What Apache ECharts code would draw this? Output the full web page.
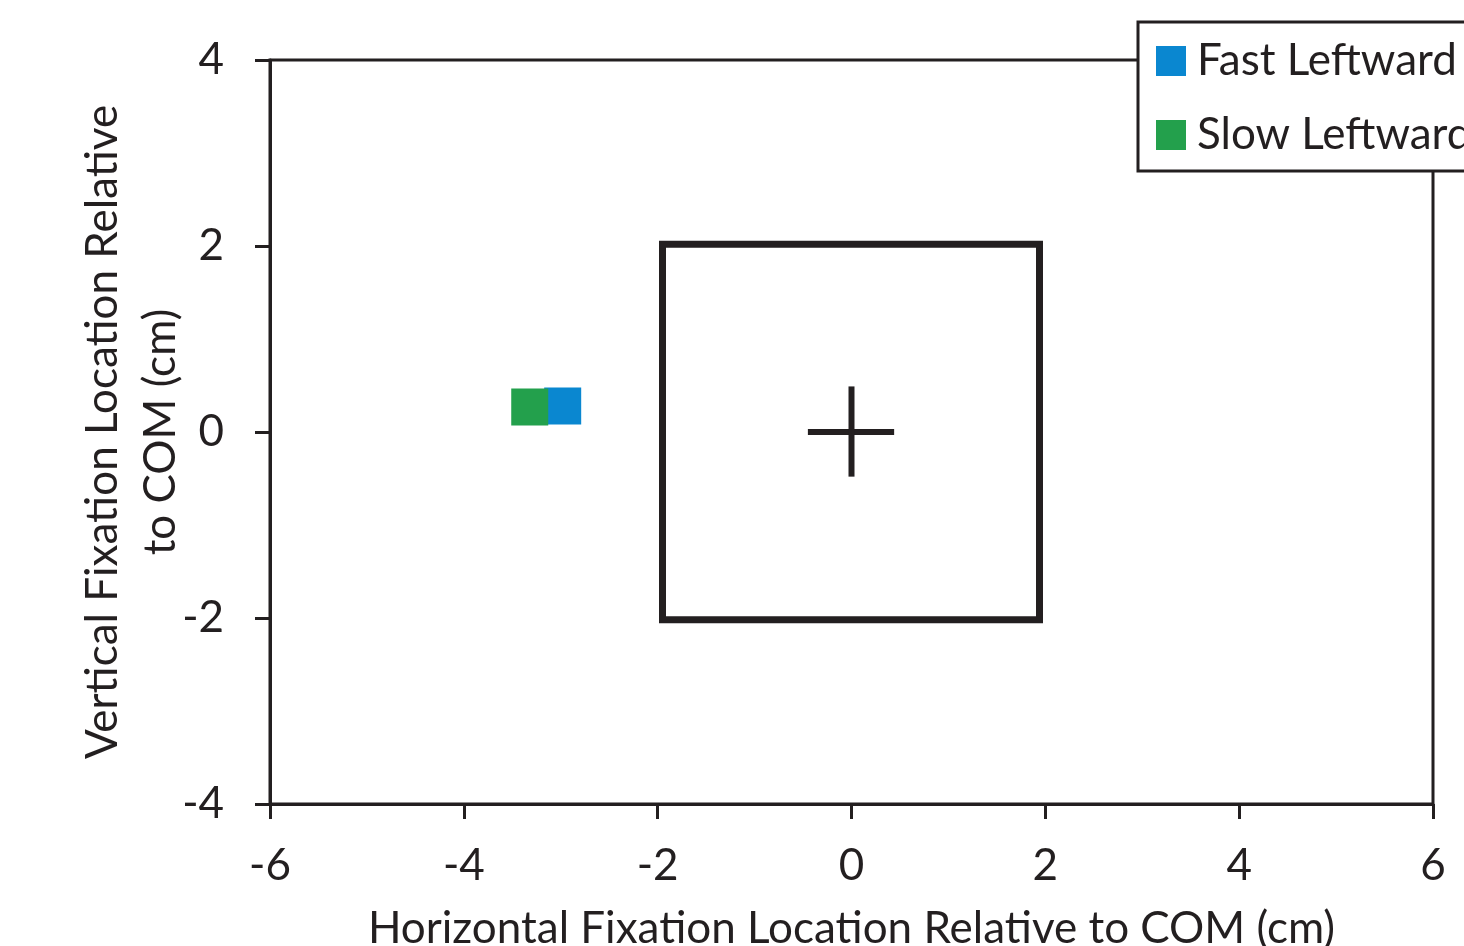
<!DOCTYPE html>
<html>
<head>
<meta charset="utf-8">
<script src="https://cdn.jsdelivr.net/npm/echarts@6/dist/echarts.min.js"></script>
<style>
  html, body { margin: 0; padding: 0; background: #fff; }
  #main { width: 1464px; height: 946px; }
</style>
</head>
<body>
<div id="main"></div>
<script>
  // data
  var seriesNames = ['Fast Leftward', 'Slow Leftward'];
  var fastLeftward = [[-2.98, 0.28]];
  var slowLeftward = [[-3.32, 0.27]];
  // stimulus box and centre of mass cross
  var boxOutline = [[-1.95, 2.02], [1.94, 2.02], [1.94, -2.02], [-1.95, -2.02], [-1.95, 2.02]];
  var crossHoriz = [[-0.45, 0], [0.44, 0]];
  var crossVert = [[0, 0.49], [0, -0.48]];
  var xTicks = [-6, -4, -2, 0, 2, 4, 6];
  var yTicks = [-4, -2, 0, 2, 4];

  var ink = '#231f20';
  var font = 'Lato';

  var chart = echarts.init(document.getElementById('main'));

  var option = {
    backgroundColor: '#fff',
    animation: false,
    textStyle: { fontFamily: font, color: ink },
    grid: {
      left: 270, right: 31, top: 60, bottom: 142,
      outerBoundsMode: 'none', containLabel: false,
      show: true, borderColor: ink, borderWidth: 3
    },
    legend: {
      orient: 'vertical',
      left: 1138, top: 22,
      padding: [17, 20, 14, 18],
      itemWidth: 30, itemHeight: 30, itemGap: 30,
      borderColor: ink, borderWidth: 3,
      backgroundColor: '#fff',
      icon: 'rect',
      data: seriesNames,
      textStyle: { fontSize: 44, fontFamily: font, color: ink, padding: [0, 0, 0, 6] }
    },
    xAxis: {
      type: 'value', min: xTicks[0], max: xTicks[xTicks.length - 1], interval: 2,
      name: 'Horizontal Fixation Location Relative to COM (cm)',
      nameLocation: 'middle', nameGap: 103, nameMoveOverlap: false,
      nameTextStyle: { fontSize: 44, color: ink, fontFamily: font },
      axisLine: { onZero: false, lineStyle: { color: ink, width: 3 } },
      axisTick: { length: 15, lineStyle: { color: ink, width: 3 } },
      axisLabel: { fontSize: 44, color: ink, margin: 40, fontFamily: font },
      splitLine: { show: false }
    },
    yAxis: {
      type: 'value', min: yTicks[0], max: yTicks[yTicks.length - 1], interval: 2,
      name: 'Vertical Fixation Location Relative\nto COM (cm)',
      nameLocation: 'middle', nameGap: 80, nameRotate: 90, nameMoveOverlap: false,
      nameTextStyle: { fontSize: 44, color: ink, fontFamily: font, lineHeight: 58 },
      axisLine: { onZero: false, lineStyle: { color: ink, width: 3 } },
      axisTick: { length: 15, lineStyle: { color: ink, width: 3 } },
      axisLabel: { fontSize: 44, color: ink, margin: 46, fontFamily: font },
      splitLine: { show: false }
    },
    series: [
      {
        type: 'line', data: boxOutline, symbol: 'none', silent: true,
        lineStyle: { color: ink, width: 7, join: 'miter', cap: 'square' }
      },
      {
        type: 'line', data: crossHoriz, symbol: 'none', silent: true,
        lineStyle: { color: ink, width: 6, cap: 'butt' }
      },
      {
        type: 'line', data: crossVert, symbol: 'none', silent: true,
        lineStyle: { color: ink, width: 6, cap: 'butt' }
      },
      {
        name: seriesNames[0], type: 'scatter', data: fastLeftward,
        symbol: 'rect', symbolSize: 37,
        itemStyle: { color: '#0a87d0', opacity: 1 }
      },
      {
        name: seriesNames[1], type: 'scatter', data: slowLeftward,
        symbol: 'rect', symbolSize: 37,
        itemStyle: { color: '#23a04c', opacity: 1 }
      }
    ]
  };

  chart.setOption(option);
</script>
</body>
</html>
